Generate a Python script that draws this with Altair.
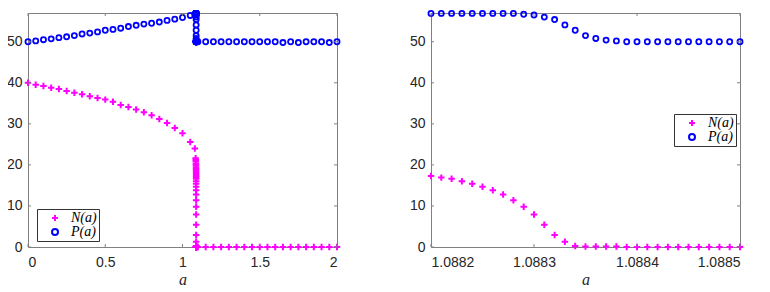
import altair as alt
import pandas as pd

SERIES = ["N(a)", "P(a)"]
COLORS = ["#ff00ff", "#0000ff"]
PLUS = "M-1,0H1M0,-1V1"

# ---- left panel: coarse grid below the threshold ----
A_LOW = [0.00, 0.05, 0.10, 0.15, 0.20, 0.25, 0.30, 0.35, 0.40, 0.45, 0.50,
         0.55, 0.60, 0.65, 0.70, 0.75, 0.80, 0.85, 0.90, 0.95, 1.00, 1.05, 1.08]
N_LOW = [40.0, 39.5, 39.2, 38.8, 38.5, 38.0, 37.6, 37.2, 36.7, 36.3, 35.9,
         35.4, 34.6, 34.1, 33.5, 32.8, 32.1, 31.2, 30.2, 29.0, 27.7, 25.6, 24.0]
P_LOW = [50.0, 50.2, 50.5, 50.7, 51.0, 51.2, 51.5, 51.9, 52.1, 52.4, 52.8,
         53.0, 53.3, 53.7, 54.0, 54.3, 54.5, 54.8, 55.2, 55.5, 55.9, 56.4, 56.7]

# ---- left panel: refined points just before the zoom window ----
A_NEAR = [1.0850, 1.0860, 1.0866, 1.0870, 1.0873, 1.0876, 1.0878, 1.0879, 1.0880, 1.0881]
N_NEAR = [21.6, 21.2, 20.8, 20.3, 19.9, 19.4, 19.0, 18.6, 18.2, 17.8]
P_NEAR = [56.8, 56.8, 56.9, 56.9, 56.9, 56.9, 56.9, 56.9, 56.9, 56.9]

# ---- zoom window (right panel, also drawn on the left) ----
A_ZOOM = [1.08820, 1.08821, 1.08822, 1.08823, 1.08824, 1.08825, 1.08826, 1.08827,
          1.08828, 1.08829, 1.08830, 1.08831, 1.08832, 1.08833, 1.08834, 1.08835,
          1.08836, 1.08837, 1.08838, 1.08839, 1.08840, 1.08841, 1.08842, 1.08843,
          1.08844, 1.08845, 1.08846, 1.08847, 1.08848, 1.08849, 1.08850]
N_ZOOM = [17.3, 16.9, 16.6, 16.0, 15.4, 14.7, 13.8, 12.8, 11.4, 9.8, 7.9, 5.4,
          2.9, 1.3, 0.24, 0.1, 0.1, 0.1, 0.1, 0.0, 0.0, 0.0, 0.0, 0.0, 0.0,
          0.0, 0.0, 0.0, 0.0, 0.0, 0.0]
P_ZOOM = [56.9, 56.9, 56.9, 56.9, 56.9, 56.9, 56.9, 56.9, 56.9, 56.7, 56.5,
          56.0, 55.4, 54.1, 52.8, 51.5, 50.8, 50.4, 50.2, 50.0, 50.0, 50.0,
          50.0, 50.0, 50.0, 50.0, 50.0, 50.0, 50.0, 50.0, 50.0]

# ---- left panel: coarse grid above the threshold ----
A_HIGH = [1.10, 1.15, 1.20, 1.25, 1.30, 1.35, 1.40, 1.45, 1.50, 1.55, 1.60,
          1.65, 1.70, 1.75, 1.80, 1.85, 1.90, 1.95, 2.00]
N_HIGH = [0.0] * 19
P_HIGH = [50.0, 50.0, 50.0, 50.0, 50.0, 50.0, 50.0, 50.0, 50.0, 50.0, 50.0,
          49.8, 50.0, 49.8, 50.0, 50.0, 50.0, 49.8, 50.0]

LEFT_XTICKS = [0, 0.5, 1, 1.5, 2]
RIGHT_XTICKS = [1.0882, 1.0883, 1.0884, 1.0885]
YTICKS = [0, 10, 20, 30, 40, 50]

W, H = 309, 234
FRAME = "#808080"
TICK = 3


def long_df(a, n, p):
    return pd.DataFrame({
        "a": list(a) + list(a),
        "v": list(n) + list(p),
        "s": [SERIES[0]] * len(a) + [SERIES[1]] * len(a),
    })


left_df = long_df(A_LOW + A_NEAR + A_ZOOM + A_HIGH,
                  N_LOW + N_NEAR + N_ZOOM + N_HIGH,
                  P_LOW + P_NEAR + P_ZOOM + P_HIGH)
right_df = long_df(A_ZOOM, N_ZOOM, P_ZOOM)


def panel(df, xdom, xticks, xfmt, lx, ly):
    xs = alt.Scale(domain=xdom, nice=False, zero=False)
    ys = alt.Scale(domain=[0, 57], nice=False, zero=False)
    xaxis = alt.Axis(values=xticks, format=xfmt, labelPadding=8, titlePadding=2,
                     minExtent=0)
    yaxis = alt.Axis(values=YTICKS, labelPadding=6, minExtent=0)
    legend = alt.Legend(
        orient="none", legendX=lx, legendY=ly, title=None,
        strokeColor="#333333", fillColor="white", padding=2,
        labelFont="Liberation Serif", labelFontStyle="italic", labelFontSize=14,
        labelColor="#000000", symbolSize=36, symbolStrokeWidth=2,
        symbolOffset=9, labelOffset=9, rowPadding=0,
    )
    enc = dict(
        x=alt.X("a:Q", scale=xs, title="a", axis=xaxis),
        y=alt.Y("v:Q", scale=ys, title=None, axis=yaxis),
        color=alt.Color("s:N", scale=alt.Scale(domain=SERIES, range=COLORS), legend=legend),
        shape=alt.Shape("s:N", scale=alt.Scale(domain=SERIES, range=[PLUS, "circle"]), legend=legend),
    )
    n_layer = alt.Chart(df).transform_filter(alt.datum.s == SERIES[0]).mark_point(
        filled=False, size=42, strokeWidth=2, opacity=1).encode(**enc)
    p_layer = alt.Chart(df).transform_filter(alt.datum.s == SERIES[1]).mark_point(
        filled=False, size=26, strokeWidth=1.8, opacity=1).encode(**enc)

    xt = pd.DataFrame({"a": xticks})
    yt = pd.DataFrame({"v": YTICKS})
    rule = dict(color=FRAME, strokeWidth=1)
    xb = alt.Chart(xt).mark_rule(**rule).encode(
        x=alt.X("a:Q", scale=xs, title="a", axis=xaxis), y=alt.value(H), y2=alt.value(H - TICK))
    xtp = alt.Chart(xt).mark_rule(**rule).encode(
        x=alt.X("a:Q", scale=xs, title="a", axis=xaxis), y=alt.value(0), y2=alt.value(TICK))
    yl = alt.Chart(yt).mark_rule(**rule).encode(
        y=alt.Y("v:Q", scale=ys, title=None, axis=yaxis), x=alt.value(0), x2=alt.value(TICK))
    yr = alt.Chart(yt).mark_rule(**rule).encode(
        y=alt.Y("v:Q", scale=ys, title=None, axis=yaxis), x=alt.value(W), x2=alt.value(W - TICK))
    return alt.layer(n_layer, p_layer, xb, xtp, yl, yr).properties(width=W, height=H)


left = panel(left_df, [0, 2], LEFT_XTICKS, ".1~f", 9, 196)
right = panel(right_df, [1.0882, 1.0885], RIGHT_XTICKS, ".4f", 243, 101)

chart = alt.hconcat(left, right, spacing=63).resolve_scale(
    color="independent", shape="independent"
).resolve_legend(
    color="independent", shape="independent"
).configure(
    padding={"left": -3, "top": -2, "right": 0, "bottom": 0},
    background="white",
).configure_view(
    stroke=FRAME, strokeWidth=1,
).configure_axis(
    domain=False, ticks=False, grid=False, minExtent=0,
    labelFont="Liberation Sans", labelFontSize=14, labelColor="#262626",
    titleFont="Liberation Serif", titleFontStyle="italic", titleFontWeight="normal",
    titleFontSize=16, titleColor="#262626",
)

chart.save("out.html", embed_options={"renderer": "svg", "actions": False})
